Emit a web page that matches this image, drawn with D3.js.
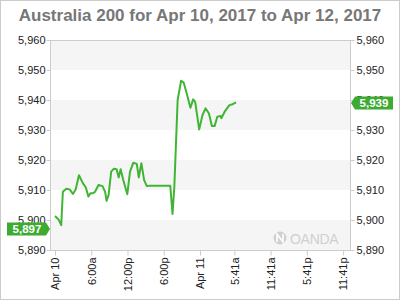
<!DOCTYPE html>
<html>
<head>
<meta charset="utf-8">
<script src="https://cdn.jsdelivr.net/npm/d3@7"></script>
<style>
  body { margin: 0; background: #fff; }
  svg { display: block; font-family: "Liberation Sans", Arial, sans-serif; }
</style>
</head>
<body>
<svg id="chart" width="400" height="300"></svg>
<script>
// Australia 200, Apr 10 - Apr 12 2017
const times = [
    "2017-04-10T00:00", "2017-04-10T00:35", "2017-04-10T01:02", "2017-04-10T01:18",
    "2017-04-10T01:52", "2017-04-10T02:25", "2017-04-10T02:58", "2017-04-10T03:25",
    "2017-04-10T03:58", "2017-04-10T04:38", "2017-04-10T05:05", "2017-04-10T05:32",
    "2017-04-10T05:52", "2017-04-10T06:18", "2017-04-10T06:38", "2017-04-10T07:12",
    "2017-04-10T07:52", "2017-04-10T08:18", "2017-04-10T08:32", "2017-04-10T08:52",
    "2017-04-10T09:18", "2017-04-10T09:45", "2017-04-10T10:12", "2017-04-10T10:32",
    "2017-04-10T10:52", "2017-04-10T11:18", "2017-04-10T11:58", "2017-04-10T12:25",
    "2017-04-10T12:58", "2017-04-10T13:32", "2017-04-10T13:52", "2017-04-10T14:18",
    "2017-04-10T14:45", "2017-04-10T15:12", "2017-04-10T15:45", "2017-04-10T17:30",
    "2017-04-10T19:05", "2017-04-10T19:27", "2017-04-10T19:45", "2017-04-10T20:18",
    "2017-04-10T20:52", "2017-04-10T21:18", "2017-04-10T21:52", "2017-04-10T22:25",
    "2017-04-10T22:52", "2017-04-10T23:12", "2017-04-10T23:52", "2017-04-11T00:25",
    "2017-04-11T00:55", "2017-04-11T01:28", "2017-04-11T01:58", "2017-04-11T02:25",
    "2017-04-11T02:52", "2017-04-11T03:25", "2017-04-11T03:32", "2017-04-11T04:05",
    "2017-04-11T04:52", "2017-04-11T05:25", "2017-04-11T05:58"
];
const prices = [
    5901.3, 5900.2, 5898.3, 5909.4,
    5910.4, 5910.2, 5908.7, 5910.2,
    5914.9, 5912.2, 5910.9, 5907.8,
    5908.9, 5908.9, 5909.4, 5911.7,
    5911.3, 5909.4, 5906.4, 5908.3,
    5916.1, 5917.1, 5916.9, 5914.2,
    5916.9, 5913.3, 5908.6, 5916.1,
    5919.1, 5918.7, 5914.2, 5918.9,
    5913.3, 5911.3, 5911.4, 5911.4,
    5911.4, 5902.0, 5911.0, 5940.0,
    5946.4, 5945.8, 5941.7, 5937.4,
    5940.2, 5939.4, 5930.2, 5935.0,
    5937.2, 5935.6, 5931.3, 5931.3,
    5934.4, 5934.7, 5933.9, 5936.1,
    5938.3, 5938.6, 5939.2
];
const yTicks = [5890, 5900, 5910, 5920, 5930, 5940, 5950, 5960];
const xTickTimes = [
    "2017-04-10T00:00", "2017-04-10T06:00", "2017-04-10T12:00", "2017-04-10T18:00",
    "2017-04-11T00:00", "2017-04-11T05:41", "2017-04-11T11:41", "2017-04-11T17:41",
    "2017-04-11T23:41"
];
const xTickLabels = ["Apr 10", "6:00a", "12:00p", "6:00p", "Apr 11", "5:41a", "11:41a", "5:41p", "11:41p"];
const openLabel = 5897;
const lastLabel = 5939;

const parse = d3.timeParse("%Y-%m-%dT%H:%M");
const data = times.map((t, i) => ({ t: parse(t), v: prices[i] }));

const svg = d3.select('#chart');
const W = 400, H = 300;
const plot = { left: 50, right: 350, top: 40, bottom: 250 };
const green = '#3dab32';
const fmt = d3.format(',');

// Outer frame
svg.append('rect')
    .attr('x', 0.5).attr('y', 0.5)
    .attr('width', W - 1).attr('height', H - 1)
    .attr('fill', '#fff')
    .attr('stroke', '#ccc');

const x = d3.scaleTime()
    .domain([parse("2017-04-10T00:00"), parse("2017-04-12T00:00")])
    .range([55, 345]);

const y = d3.scaleLinear()
    .domain([5890, 5960])
    .range([plot.bottom, plot.top]);

// Alternating bands
const bands = yTicks.slice(0, -1).filter((d, i) => i % 2 === 0);
svg.append('g').selectAll('rect')
    .data(bands)
    .enter()
    .append('rect')
    .attr('x', plot.left)
    .attr('width', plot.right - plot.left)
    .attr('y', d => y(d + 10))
    .attr('height', d => y(d) - y(d + 10))
    .attr('fill', '#f5f5f5');
svg.append('rect')
    .attr('x', plot.left).attr('width', plot.right - plot.left)
    .attr('y', y(5960)).attr('height', y(5950) - y(5960))
    .attr('fill', '#f5f5f5');

// Watermark
const wm = svg.append('g').attr('fill', '#d0d0d0');
wm.append('circle').attr('cx', 280).attr('cy', 238).attr('r', 6.5);
wm.append('path')
    .attr('d', 'M277,242 L277,234 L283,242 L283,234')
    .attr('stroke', '#fff').attr('stroke-width', 1.6).attr('fill', 'none');
wm.append('text')
    .attr('x', 290).attr('y', 243.5)
    .attr('font-size', 14)
    .attr('letter-spacing', -0.3)
    .text('OANDA');

// Plot border
svg.append('rect')
    .attr('x', plot.left + 0.5).attr('y', plot.top + 0.5)
    .attr('width', plot.right - plot.left).attr('height', plot.bottom - plot.top)
    .attr('fill', 'none')
    .attr('stroke', '#ccc');

// Y axes
const yLeft = d3.axisLeft(y).tickValues(yTicks).tickSize(4).tickPadding(1).tickFormat(fmt);
const yRight = d3.axisRight(y).tickValues(yTicks).tickSize(4).tickPadding(2).tickFormat(fmt);

const gl = svg.append('g').attr('transform', `translate(${plot.left + 0.5},0)`).call(yLeft);
const gr = svg.append('g').attr('transform', `translate(${plot.right + 0.5},0)`).call(yRight);
[gl, gr].forEach(g => {
    g.select('.domain').remove();
    g.selectAll('.tick line').attr('stroke', '#ccc');
    g.selectAll('.tick text')
        .attr('fill', '#222')
        .attr('font-size', 11)
        .attr('font-family', '"Liberation Sans", Arial, sans-serif');
});

// X axis
const xAxis = d3.axisBottom(x)
    .tickValues(xTickTimes.map(parse))
    .tickSize(5)
    .tickFormat((d, i) => xTickLabels[i]);
const gx = svg.append('g').attr('transform', `translate(0,${plot.bottom + 0.5})`).call(xAxis);
gx.select('.domain').remove();
gx.selectAll('.tick line').attr('stroke', '#ccc');
gx.selectAll('.tick text')
    .attr('fill', '#222')
    .attr('font-size', 11)
    .attr('font-family', '"Liberation Sans", Arial, sans-serif')
    .attr('text-anchor', 'end')
    .attr('transform', 'rotate(-90)')
    .attr('x', -7)
    .attr('y', 0)
    .attr('dy', '0.35em');

// Price line
const line = d3.line()
    .x(d => x(d.t))
    .y(d => y(d.v));

svg.append('path')
    .datum(data)
    .attr('fill', 'none')
    .attr('stroke', '#40b534')
    .attr('stroke-width', 2)
    .attr('stroke-linejoin', 'round')
    .attr('d', line);

// Value badges
function badge(value, side) {
    const cy = Math.round(y(value));
    const g = svg.append('g');
    if (side === 'left') {
        g.append('path')
            .attr('d', `M7,${cy - 6.5} L46,${cy - 6.5} L50,${cy} L46,${cy + 6.5} L7,${cy + 6.5} Z`)
            .attr('fill', green);
        g.append('text')
            .attr('x', 27).attr('y', cy + 4)
            .attr('text-anchor', 'middle');
    } else {
        g.append('path')
            .attr('d', `M351,${cy} L355,${cy - 6.5} L393,${cy - 6.5} L393,${cy + 6.5} L355,${cy + 6.5} Z`)
            .attr('fill', green);
        g.append('text')
            .attr('x', 374).attr('y', cy + 4)
            .attr('text-anchor', 'middle');
    }
    g.select('text')
        .attr('fill', '#fff')
        .attr('font-size', 11.5)
        .attr('font-weight', 'bold')
        .text(fmt(value));
}
badge(openLabel, 'left');
badge(lastLabel, 'right');

// Title
svg.append('text')
    .attr('x', W / 2)
    .attr('y', 21)
    .attr('text-anchor', 'middle')
    .attr('fill', '#777')
    .attr('font-size', 17)
    .attr('font-weight', 'bold')
    .text('Australia 200 for Apr 10, 2017 to Apr 12, 2017');
</script>
</body>
</html>
